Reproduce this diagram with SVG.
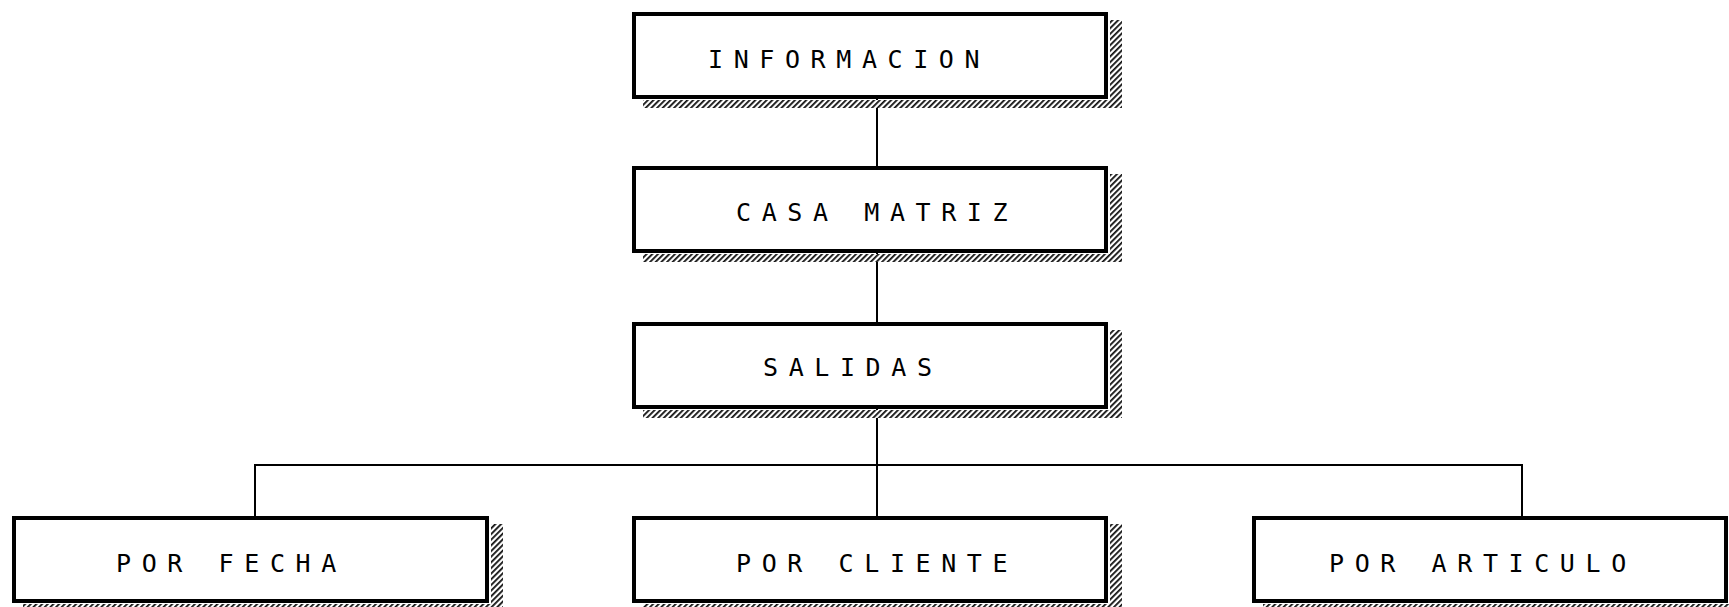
<svg xmlns="http://www.w3.org/2000/svg" width="1729" height="607" viewBox="0 0 1729 607">
<defs>
<pattern id="hatch" width="4" height="4" patternUnits="userSpaceOnUse" patternTransform="rotate(45)">
<rect width="4" height="4" fill="#ffffff"/>
<rect width="1.8" height="4" fill="#111111"/>
</pattern>
</defs>
<style>
.box{fill:#ffffff;stroke:#000000;stroke-width:4}
.shadow{fill:url(#hatch)}
.lbl{font-family:"DejaVu Sans Mono","Liberation Mono",monospace;font-size:25px;letter-spacing:10.6px;fill:#000000}
.conn{stroke:#000000;stroke-width:2;fill:none}
</style>
<rect width="1729" height="607" fill="#ffffff"/>
<g id="connectors">
<line class="conn" x1="877" y1="99" x2="877" y2="166"/>
<line class="conn" x1="877" y1="253" x2="877" y2="322"/>
<line class="conn" x1="877" y1="409" x2="877" y2="516"/>
<polyline class="conn" points="255,516 255,465 1522,465 1522,516"/>
</g>
<g id="n-informacion">
<rect class="shadow" x="1110" y="20" width="12" height="88"/>
<rect class="shadow" x="643" y="100" width="479" height="8"/>
<rect class="box" x="634" y="14" width="472" height="83"/>
<text class="lbl" x="708" y="68">INFORMACION</text>
</g>
<g id="n-casa-matriz">
<rect class="shadow" x="1110" y="174" width="12" height="88"/>
<rect class="shadow" x="643" y="254" width="479" height="8"/>
<rect class="box" x="634" y="168" width="472" height="83"/>
<text class="lbl" x="736" y="221">CASA MATRIZ</text>
</g>
<g id="n-salidas">
<rect class="shadow" x="1110" y="330" width="12" height="88"/>
<rect class="shadow" x="643" y="410" width="479" height="8"/>
<rect class="box" x="634" y="324" width="472" height="83"/>
<text class="lbl" x="763" y="376">SALIDAS</text>
</g>
<g id="n-por-fecha">
<rect class="shadow" x="491" y="524" width="12" height="88"/>
<rect class="shadow" x="23" y="604" width="480" height="8"/>
<rect class="box" x="14" y="518" width="473" height="83"/>
<text class="lbl" x="116" y="572">POR FECHA</text>
</g>
<g id="n-por-cliente">
<rect class="shadow" x="1110" y="524" width="12" height="88"/>
<rect class="shadow" x="643" y="604" width="479" height="8"/>
<rect class="box" x="634" y="518" width="472" height="83"/>
<text class="lbl" x="736" y="572">POR CLIENTE</text>
</g>
<g id="n-por-articulo">
<rect class="shadow" x="1263" y="604" width="479" height="8"/>
<rect class="box" x="1254" y="518" width="472" height="83"/>
<text class="lbl" x="1329" y="572">POR ARTICULO</text>
</g>
</svg>
